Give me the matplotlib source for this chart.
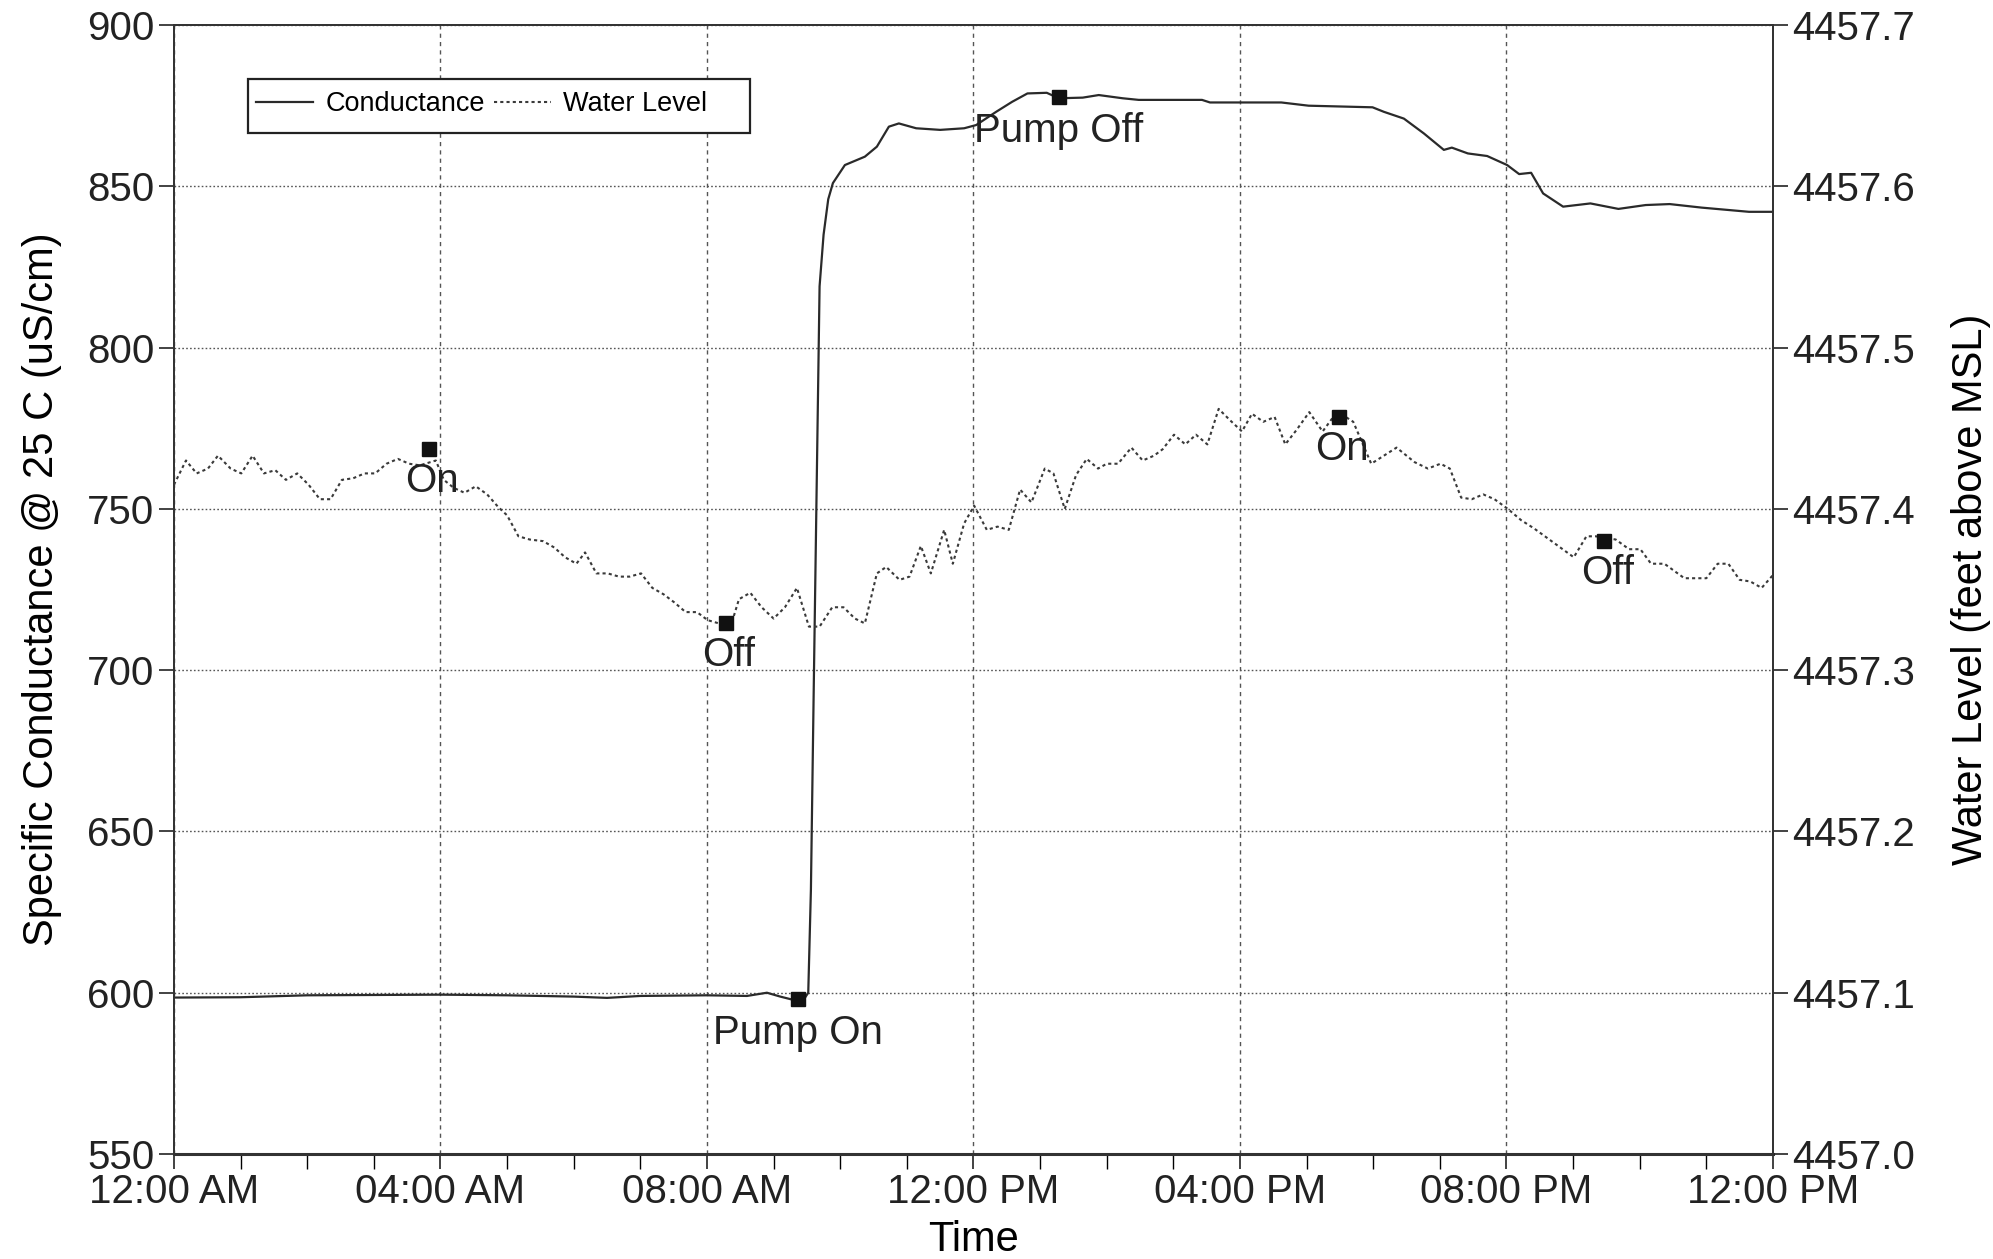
import matplotlib
matplotlib.use("Agg")
import matplotlib.pyplot as plt
from matplotlib.patches import Rectangle
import numpy as np

plt.rcParams['font.family'] = ['Liberation Sans', 'DejaVu Sans']

# ---------------- data ----------------
x_tick_labels = ["12:00 AM", "04:00 AM", "08:00 AM", "12:00 PM", "04:00 PM", "08:00 PM", "12:00 PM"]

cond_hours = [0.0, 1.0, 2.0, 3.0, 4.0, 5.0, 6.0, 6.5, 7.0, 8.0, 8.6, 8.9, 9.1, 9.35, 9.45,
              9.52, 9.56, 9.60, 9.69, 9.75, 9.82, 9.89, 10.07, 10.37, 10.55, 10.73, 10.88,
              11.14, 11.5, 11.86, 12.04, 12.34, 12.58, 12.81, 13.10, 13.28, 13.64, 13.88,
              14.24, 14.48, 15.43, 15.55, 16.62, 17.03, 17.99, 18.16, 18.46, 18.76, 19.06,
              19.18, 19.42, 19.71, 20.01, 20.19, 20.37, 20.55, 20.85, 21.26, 21.68, 22.09,
              22.45, 22.93, 23.64, 24.0]
cond_values = [598.5, 598.6, 599.2, 599.3, 599.4, 599.2, 598.8, 598.4, 599.0, 599.2, 599.0,
               600.0, 598.8, 597.5, 597.8, 600.0, 632.0, 691.0, 819.0, 835.0, 846.0, 851.0,
               856.6, 859.2, 862.3, 868.5, 869.5, 868.0, 867.5, 868.0, 869.0, 873.1, 876.2,
               878.8, 879.0, 877.3, 877.5, 878.3, 877.3, 876.8, 876.8, 876.0, 876.0, 875.0,
               874.5, 873.1, 871.0, 866.4, 861.3, 862.0, 860.2, 859.4, 856.6, 853.8, 854.2,
               847.8, 843.7, 844.7, 843.0, 844.2, 844.5, 843.4, 842.1, 842.1]

wl_hours = [0.00, 0.18, 0.34, 0.51, 0.66, 0.85, 1.01, 1.18, 1.35, 1.52, 1.68, 1.85, 2.02, 2.19,
            2.35, 2.52, 2.69, 2.86, 3.02, 3.19, 3.36, 3.53, 3.69, 3.93, 4.05, 4.20, 4.36, 4.53,
            4.70, 4.87, 5.00, 5.17, 5.34, 5.54, 5.71, 5.87, 6.04, 6.17, 6.34, 6.51, 6.68, 6.84,
            7.01, 7.18, 7.35, 7.51, 7.68, 7.85, 8.01, 8.18, 8.34, 8.48, 8.65, 8.82, 9.00, 9.17,
            9.35, 9.53, 9.69, 9.88, 10.05, 10.22, 10.37, 10.55, 10.69, 10.89, 11.04, 11.21,
            11.36, 11.56, 11.69, 11.86, 12.01, 12.20, 12.36, 12.53, 12.70, 12.87, 13.07, 13.20,
            13.37, 13.54, 13.70, 13.87, 14.00, 14.17, 14.37, 14.54, 14.71, 14.84, 15.01, 15.18,
            15.34, 15.51, 15.68, 15.85, 16.03, 16.18, 16.35, 16.52, 16.68, 16.85, 17.04, 17.24,
            17.40, 17.55, 17.70, 17.97, 18.35, 18.62, 18.82, 19.01, 19.15, 19.32, 19.48, 19.65,
            19.82, 20.02, 20.22, 20.41, 20.61, 20.81, 21.01, 21.20, 21.34, 21.64, 21.84, 22.01,
            22.17, 22.37, 22.67, 23.00, 23.17, 23.33, 23.50, 23.66, 23.83, 24.00]
wl_values = [4457.415, 4457.430, 4457.422, 4457.425, 4457.433, 4457.425, 4457.422, 4457.433,
             4457.422, 4457.424, 4457.418, 4457.422, 4457.415, 4457.406, 4457.406, 4457.418,
             4457.419, 4457.422, 4457.422, 4457.428, 4457.431, 4457.428, 4457.427, 4457.430,
             4457.418, 4457.413, 4457.410, 4457.414, 4457.409, 4457.401, 4457.396, 4457.383,
             4457.381, 4457.380, 4457.376, 4457.370, 4457.366, 4457.373, 4457.360, 4457.360,
             4457.358, 4457.358, 4457.360, 4457.351, 4457.347, 4457.342, 4457.336, 4457.336,
             4457.331, 4457.329, 4457.325, 4457.344, 4457.348, 4457.339, 4457.332, 4457.339,
             4457.351, 4457.327, 4457.327, 4457.339, 4457.339, 4457.332, 4457.329, 4457.360,
             4457.364, 4457.356, 4457.358, 4457.377, 4457.360, 4457.387, 4457.366, 4457.391,
             4457.402, 4457.387, 4457.389, 4457.387, 4457.412, 4457.404, 4457.425, 4457.422,
             4457.400, 4457.421, 4457.431, 4457.425, 4457.428, 4457.428, 4457.438, 4457.430,
             4457.433, 4457.437, 4457.446, 4457.440, 4457.446, 4457.440, 4457.462, 4457.455,
             4457.448, 4457.459, 4457.454, 4457.457, 4457.440, 4457.449, 4457.460, 4457.448,
             4457.457, 4457.458, 4457.454, 4457.428, 4457.438, 4457.429, 4457.425, 4457.428,
             4457.425, 4457.407, 4457.406, 4457.409, 4457.406, 4457.400, 4457.393, 4457.388,
             4457.382, 4457.376, 4457.370, 4457.383, 4457.383, 4457.381, 4457.375, 4457.375,
             4457.366, 4457.366, 4457.357, 4457.357, 4457.366, 4457.366, 4457.356, 4457.355,
             4457.351, 4457.359]

pump_labels = ["Pump On", "Pump Off"]
pump_hours = [9.37, 13.28]
pump_values = [598.0, 877.6]

wl_event_labels = ["On", "Off", "On", "Off"]
wl_event_hours = [3.83, 8.29, 17.49, 21.47]
wl_event_values = [4457.437, 4457.329, 4457.457, 4457.380]

# ---------------- figure ----------------
fig = plt.figure(figsize=(19.93, 12.59), dpi=100)
ax1 = fig.add_axes([0.0873, 0.0834, 0.8023, 0.8967])
ax2 = ax1.twinx()

line_col = '#2a2a2a'
grid_col = '#555555'
FS = 29

l1, = ax1.plot(cond_hours, cond_values, color=line_col, lw=1.6, label='Conductance', zorder=3)
l2, = ax2.plot(wl_hours, wl_values, color='#3a3a3a', lw=1.5, linestyle=(0, (1.5, 1.5)),
               label='Water Level', zorder=3)

ax1.set_xlim(0, 24)
ax1.set_ylim(550, 900)
ax2.set_ylim(4457.0, 4457.7)

ax1.set_xticks(np.arange(0, 25, 4))
ax1.set_xticklabels(x_tick_labels)
ax1.set_xticks(np.arange(0, 25, 1), minor=True)
ax1.set_yticks(np.arange(550, 901, 50))
ax2.set_yticks(np.round(np.arange(4457.0, 4457.71, 0.1), 1))
ax2.set_yticklabels([f"{v:.1f}" for v in np.arange(4457.0, 4457.71, 0.1)])

for ax in (ax1, ax2):
    ax.tick_params(axis='both', which='major', direction='out', length=11, width=1.2,
                   labelsize=FS, pad=3, colors='#222222')
    ax.tick_params(axis='x', which='minor', direction='out', length=11, width=1.0)
    for s in ax.spines.values():
        s.set_linewidth(1.3)
        s.set_color('#333333')
ax1.spines['bottom'].set_linewidth(2.2)

ax1.grid(True, axis='y', which='major', color=grid_col, linestyle=(0, (1.2, 1.6)), lw=1.0, zorder=0)
ax1.grid(True, axis='x', which='major', color=grid_col, linestyle=(0, (3, 3)), lw=1.0, zorder=0)

ax1.set_xlabel('Time', fontsize=FS + 1, labelpad=6)
ax1.set_ylabel('Specific Conductance @ 25 C (uS/cm)', fontsize=FS + 1, labelpad=18)
ax2.set_ylabel('Water Level (feet above MSL)', fontsize=FS + 1, labelpad=26)

# event markers
ax1.plot(pump_hours, pump_values, linestyle='none', marker='s', ms=10, color='#111111', zorder=4)
for lab, h, v in zip(pump_labels, pump_hours, pump_values):
    ax1.annotate(lab, (h, v), xytext=(0, -24), textcoords='offset points',
                 ha='center', va='center', fontsize=FS, color='#222222', zorder=5)
ax2.plot(wl_event_hours, wl_event_values, linestyle='none', marker='s', ms=10, color='#111111', zorder=4)
for lab, h, v in zip(wl_event_labels, wl_event_hours, wl_event_values):
    ax2.annotate(lab, (h, v), xytext=(2, -23), textcoords='offset points',
                 ha='center', va='center', fontsize=FS, color='#222222', zorder=5)

# legend
box = Rectangle((0.0463, 0.904), 0.314, 0.048, transform=ax2.transAxes, facecolor='white',
                edgecolor='#222222', lw=1.6, zorder=6)
ax2.add_patch(box)
leg = ax2.legend([l1, l2], ['Conductance', 'Water Level'], ncol=2, frameon=False,
                 loc='center left', bbox_to_anchor=(0.0463, 0.93), borderaxespad=0.0,
                 borderpad=0.3, fontsize=19.5, handlelength=2.1, handletextpad=0.45,
                 columnspacing=0.35)
leg.set_zorder(7)

fig.savefig('out.png', dpi=100)
